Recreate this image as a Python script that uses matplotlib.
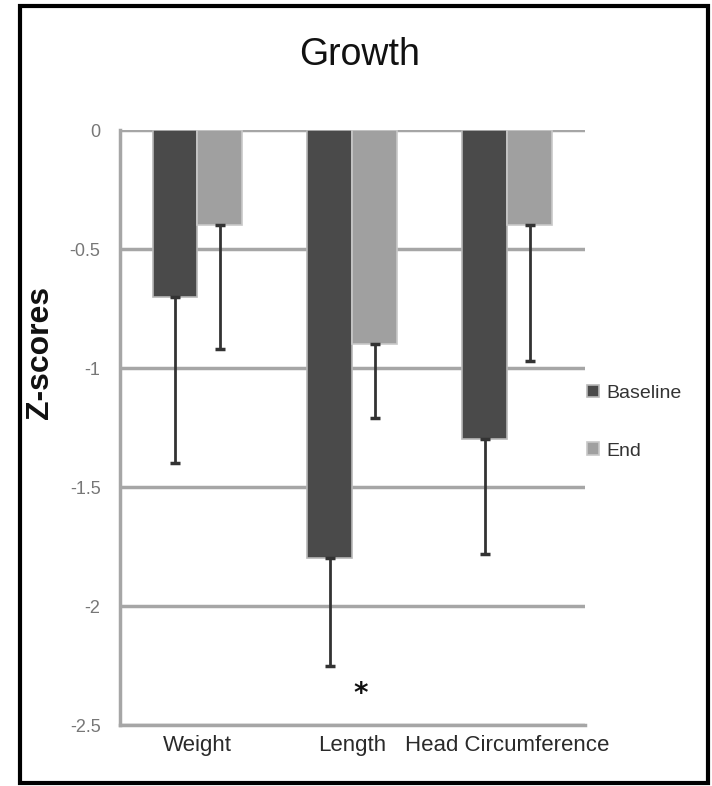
"""Growth z-scores: baseline vs end, grouped bars with lower error bars."""

import matplotlib

matplotlib.use("Agg")
import matplotlib.pyplot as plt
import numpy as np
from matplotlib.patches import Rectangle

categories = ["Weight", "Length", "Head Circumference"]
baseline = [-0.70, -1.80, -1.30]
end = [-0.40, -0.90, -0.40]
baseline_err = [0.70, 0.45, 0.48]
end_err = [0.52, 0.31, 0.57]
yticks = [0, -0.5, -1, -1.5, -2, -2.5]
ytick_labels = ["0", "-0.5", "-1", "-1.5", "-2", "-2.5"]
star_pos = (1.05, -2.37)

narrow = ["Liberation Sans", "DejaVu Sans"]

fig = plt.figure(figsize=(7.12, 7.86), dpi=100)
ax = fig.add_axes([0.1685, 0.0776, 0.653, 0.757])

x = np.arange(len(categories))
w = 0.29
ax.bar(x - w / 2, baseline, w, color="#4a4a4a", edgecolor="#b8b8b8",
       linewidth=1.2, label="Baseline", zorder=3)
ax.bar(x + w / 2, end, w, color="#a0a0a0", edgecolor="#c8c8c8",
       linewidth=1.2, label="End", zorder=3)

ax.errorbar(x - w / 2, baseline, yerr=[baseline_err, [0] * 3], fmt="none",
            ecolor="#333333", elinewidth=2, capsize=3.5, capthick=2.5, zorder=4)
ax.errorbar(x + w / 2, end, yerr=[end_err, [0] * 3], fmt="none",
            ecolor="#333333", elinewidth=2, capsize=3.5, capthick=2.5, zorder=4)

ax.text(star_pos[0], star_pos[1], "*", ha="center", va="center",
        fontsize=20, fontweight="bold", color="#111111", zorder=5)

ax.set_ylim(-2.5, 0)
ax.set_xlim(-0.5, 2.5)
ax.set_yticks(yticks)
ax.set_yticklabels(ytick_labels, family=narrow, fontsize=13, color="#777777")
ax.set_xticks(x)
ax.set_xticklabels(categories, family=narrow, fontsize=16, color="#2a2a2a")
ax.tick_params(axis="y", length=0, pad=14)
ax.tick_params(axis="x", length=0, pad=7)

ax.yaxis.grid(True, color="#a6a6a6", linewidth=2.5, zorder=1)
ax.set_axisbelow(True)
for side in ("right", "top"):
    ax.spines[side].set_visible(False)
for side in ("left", "bottom"):
    ax.spines[side].set_color("#a6a6a6")
    ax.spines[side].set_linewidth(2.5)

ax.set_ylabel("Z-scores", fontsize=23, fontweight="bold", family=narrow,
              color="#111111")
ax.yaxis.set_label_coords(-0.14, 0.627)
fig.text(0.505, 0.93, "Growth", ha="center", va="center",
         family=narrow, fontsize=27, color="#111111")

fig.legend(loc="center left", bbox_to_anchor=(0.8, 0.463), frameon=False,
           prop={"family": narrow, "size": 14}, labelspacing=2.1,
           handlelength=0.6, handleheight=0.6, handletextpad=0.4,
           labelcolor="#333333")

fig.patches.append(Rectangle((20 / 712, 3 / 786), 688 / 712, 777 / 786,
                             transform=fig.transFigure, fill=False,
                             edgecolor="black", linewidth=3))

fig.savefig("out.png", dpi=100)
plt.close(fig)
